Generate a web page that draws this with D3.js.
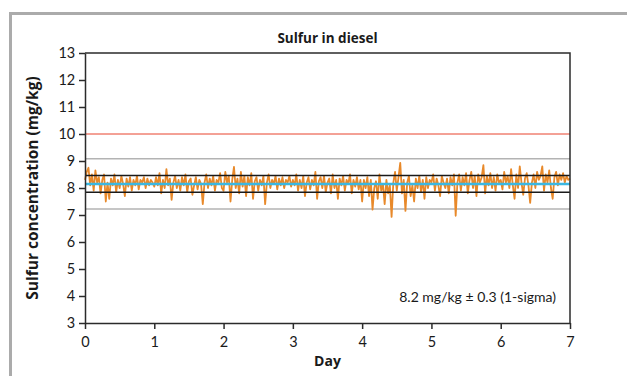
<!DOCTYPE html>
<html>
<head>
<meta charset="utf-8">
<script src="https://cdn.jsdelivr.net/npm/d3@7"></script>
<style>
  body { margin: 0; background: #fff; }
  svg { display: block; font-family: "Open Sans", "Noto Sans", sans-serif; }
</style>
</head>
<body>
<svg id="chart" width="627" height="376"></svg>
<script>
// sulfur readings, evenly spread over day 0 .. 7
const sulfur = [
  8.3, 8.6, 8.75, 8.1, 8.5, 7.9, 8.65, 8.2, 8.4, 7.8, 8.3, 8.5, 7.5, 8.2, 7.6, 8.35, 8.1, 8.5, 7.85, 8.3, 8.0, 8.45, 8.15, 7.7, 8.35, 8.05, 8.4, 7.9, 8.3, 8.1, 8.45, 7.95, 8.3, 8.2, 8.4, 8.0, 8.35, 8.1, 8.3, 8.2,
  8.05, 8.4, 8.1, 8.55, 7.8, 8.3, 8.0, 8.7, 8.1, 8.35, 7.56, 8.2, 8.45, 8.0, 8.3, 7.9, 8.4, 8.1, 8.5, 7.85, 8.25, 8.35, 7.75, 8.1, 8.4, 7.95, 8.3, 8.15, 7.4, 8.2, 8.5, 8.0, 8.35, 8.1, 8.45, 7.9, 8.3, 8.2, 8.55, 8.0,
  7.9, 8.6, 8.2, 8.45, 7.5, 8.3, 8.78, 8.0, 8.35, 7.8, 8.6, 8.05, 8.45, 7.7, 8.4, 8.1, 8.55, 7.6, 8.25, 8.4, 7.9, 8.3, 8.1, 8.45, 7.4, 8.2, 8.5, 8.0, 8.3, 8.15, 8.45, 7.95, 8.35, 8.1, 8.4, 8.0, 8.3, 8.2, 8.45, 8.05,
  8.3, 8.1, 8.5, 7.9, 8.3, 8.0, 8.45, 7.7, 8.2, 8.4, 7.95, 8.3, 8.1, 8.6, 7.6, 8.25, 8.4, 8.0, 8.45, 7.85, 8.2, 8.35, 7.8, 8.5, 8.0, 8.3, 7.6, 8.35, 8.1, 8.45, 7.9, 8.3, 8.15, 8.5, 7.8, 8.3, 8.05, 8.4, 7.95, 8.3,
  7.5, 8.3, 8.0, 8.4, 7.7, 8.3, 7.2, 8.0, 8.25, 7.6, 8.5, 7.9, 8.15, 7.4, 8.3, 7.8, 8.1, 6.93, 8.2, 8.6, 7.9, 8.4, 8.93, 7.8, 8.3, 7.15, 8.2, 8.45, 7.7, 8.1, 7.5, 8.35, 8.0, 8.45, 7.85, 8.3, 7.6, 8.4, 8.0, 8.3,
  8.2, 8.5, 7.9, 8.35, 8.1, 7.7, 8.45, 8.2, 8.0, 8.35, 7.8, 8.4, 8.1, 8.5, 6.97, 8.2, 8.5, 7.9, 8.4, 8.1, 8.55, 7.8, 8.3, 8.6, 8.0, 8.45, 7.7, 8.5, 8.2, 8.4, 8.85, 7.8, 8.45, 8.1, 8.55, 8.0, 8.4, 7.9, 8.5, 8.2,
  8.3, 7.95, 8.6, 8.2, 8.45, 8.0, 8.7, 8.1, 7.6, 8.5, 8.0, 8.8, 8.2, 7.75, 8.35, 8.55, 8.1, 7.45, 8.2, 8.5, 8.0, 8.6, 8.3, 8.45, 8.8, 7.9, 8.5, 8.2, 8.65, 8.0, 7.6, 8.4, 8.6, 8.1, 8.5, 8.3, 8.55, 8.2, 8.45, 8.3, 8.35
];
const totalDays = 7;

// reference lines
const meanLevel = 8.15;
const sigmaLevels = [8.46, 7.84];
const outerLevels = [9.08, 7.22];
const limitLevel = 10;

const xTicks = [0, 1, 2, 3, 4, 5, 6, 7];
const yTicks = [3, 4, 5, 6, 7, 8, 9, 10, 11, 12, 13];

const svg = d3.select("#chart");
const margin = { left: 85, right: 57, top: 53, bottom: 53 };
const width = 627 - margin.left - margin.right;
const height = 376 - margin.top - margin.bottom;

// outer gray frame
svg.append("rect")
  .attr("x", 10.5).attr("y", 13.5)
  .attr("width", 700).attr("height", 500)
  .attr("fill", "none")
  .attr("stroke", "#ababab")
  .attr("stroke-width", 3);

const g = svg.append("g").attr("transform", `translate(${margin.left},${margin.top})`);

const x = d3.scaleLinear().domain([0, totalDays]).range([0, width]);
const y = d3.scaleLinear().domain([3, 13]).range([height, 0]);

// horizontal reference lines
const hline = (v, color, w) => g.append("line")
  .attr("x1", 0).attr("x2", width)
  .attr("y1", y(v)).attr("y2", y(v))
  .attr("stroke", color).attr("stroke-width", w);

hline(limitLevel, "#e8432d", 1);
outerLevels.forEach(v => hline(v, "#b3b3b3", 1.5));

// orange series
const line = d3.line()
  .x((d, i) => x(i / (sulfur.length - 1) * totalDays))
  .y(d => y(d));

g.append("path")
  .datum(sulfur)
  .attr("fill", "none")
  .attr("stroke", "#e8892a")
  .attr("stroke-width", 1.8)
  .attr("stroke-linejoin", "round")
  .attr("d", line);

hline(meanLevel, "#3ab7e2", 2.5);
sigmaLevels.forEach(v => hline(v, "#1a1a1a", 1.5));

// axes
const xAxis = g.append("g")
  .attr("transform", `translate(0,${height})`)
  .call(d3.axisBottom(x).tickValues(xTicks).tickSize(6).tickSizeOuter(0).tickFormat(d3.format("d")));
const yAxis = g.append("g")
  .call(d3.axisLeft(y).tickValues(yTicks).tickSize(6).tickSizeOuter(0).tickFormat(d3.format("d")));

[xAxis, yAxis].forEach(a => {
  a.attr("font-family", "Lato").attr("font-size", 14.5);
  a.selectAll("path, line").attr("stroke", "#2b2b2b").attr("stroke-width", 1.5);
  a.selectAll("text").attr("fill", "#1a1a1a");
});
xAxis.selectAll("text").attr("dy", "1em");
yAxis.selectAll("text").attr("dx", "-0.05em");

// top and right frame
g.append("path")
  .attr("d", `M0,0H${width}V${height}`)
  .attr("fill", "none")
  .attr("stroke", "#2b2b2b")
  .attr("stroke-width", 1.5);

// texts
svg.append("text")
  .attr("x", margin.left + width / 2).attr("y", 43)
  .attr("text-anchor", "middle")
  .attr("font-weight", "bold").attr("font-size", 13.5)
  .attr("fill", "#1a1a1a")
  .text("Sulfur in diesel");

svg.append("text")
  .attr("x", margin.left + width / 2).attr("y", 366)
  .attr("text-anchor", "middle")
  .attr("font-weight", "bold").attr("font-size", 14)
  .attr("fill", "#1a1a1a")
  .text("Day");

svg.append("text")
  .attr("transform", `translate(38,${margin.top + height / 2}) rotate(-90)`)
  .attr("text-anchor", "middle")
  .attr("font-weight", "bold").attr("font-size", 15.5)
  .attr("fill", "#1a1a1a")
  .text("Sulfur concentration (mg/kg)");

svg.append("text")
  .attr("x", 556).attr("y", 302)
  .attr("text-anchor", "end")
  .attr("font-family", "Lato")
  .attr("font-size", 14)
  .attr("fill", "#1a1a1a")
  .text("8.2 mg/kg ± 0.3 (1-sigma)");
</script>
</body>
</html>
